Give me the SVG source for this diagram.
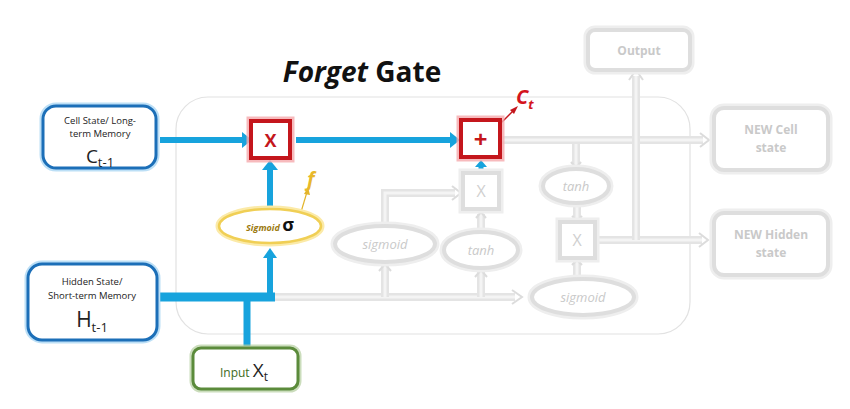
<svg xmlns="http://www.w3.org/2000/svg" width="850" height="409" viewBox="0 0 850 409">
<style>
.font{font-family:"Open Sans","Liberation Sans",sans-serif}
.bluebox{fill:#fff;stroke:#1c6fb8;stroke-width:3}
.blueglow{fill:none;stroke:#9fd2f2;stroke-width:7;opacity:0.7}
.blk{font-family:"Open Sans","Liberation Sans",sans-serif;fill:#222}
.flow{stroke:#17a3dd;fill:none}
.gline{stroke:#e4e4e4;fill:none;stroke-width:8}
.gin{stroke:#f4f4f4;fill:none;stroke-width:3}
.gshape{fill:#fff;stroke:#dedede;stroke-width:4}
.gglow{fill:none;stroke:#eeeeee;stroke-width:9}
.gtxt{font-family:"Open Sans","Liberation Sans",sans-serif;fill:#c9c9c9;font-weight:bold;font-size:12px;text-anchor:middle}
.gital{font-family:"Open Sans","Liberation Sans",sans-serif;fill:#c9c9c9;font-style:italic;font-size:13px;text-anchor:middle}
.redbox{fill:#fff;stroke:#c4161c;stroke-width:4}
.redglow{fill:none;stroke:#f5a9ad;stroke-width:9;opacity:0.8}
</style>
<rect width="850" height="409" fill="#fff"/>

<!-- title -->
<text x="362" y="82" class="font" font-size="28" font-weight="bold" text-anchor="middle" fill="#111"><tspan font-style="italic">Forget</tspan> Gate</text>

<!-- big cell container -->
<rect x="176" y="97" width="514" height="237" rx="32" fill="none" stroke="#e2e2e2" stroke-width="1.2"/>

<!-- faded connectors -->
<g id="faded-connectors">
<path class="gline" d="M275,297 H515"/>
<path class="gin" d="M275,297 H515"/>
<path d="M512,290 L522,297 L512,304" fill="none" stroke="#dcdcdc" stroke-width="2"/>
<path class="gline" d="M385,297 V266"/>
<path class="gin" d="M385,297 V266"/>
<path d="M379,271 L385,264 L391,271" fill="none" stroke="#dcdcdc" stroke-width="2"/>
<path class="gline" d="M481,297 V272"/>
<path class="gin" d="M481,297 V272"/>
<path d="M475,277 L481,270 L487,277" fill="none" stroke="#dcdcdc" stroke-width="2"/>
<path class="gline" d="M385,226 V193 H455"/>
<path class="gin" d="M385,226 V193 H455"/>
<path d="M452,186 L461,193 L452,200" fill="none" stroke="#dcdcdc" stroke-width="2"/>
<path class="gline" d="M481,232 V214"/>
<path class="gin" d="M481,232 V214"/>
<path d="M476,218 L481,212 L486,218" fill="none" stroke="#dcdcdc" stroke-width="2"/>
<path class="gline" d="M502,140 H703"/>
<path class="gin" d="M502,140 H703"/>
<path d="M700,133 L709,140 L700,147" fill="none" stroke="#dcdcdc" stroke-width="2"/>
<path class="gline" d="M576,144 V165"/>
<path class="gin" d="M576,144 V165"/>
<path d="M571,162 L576,168 L581,162" fill="none" stroke="#dcdcdc" stroke-width="2"/>
<path class="gline" d="M577,203 V219"/>
<path class="gin" d="M577,203 V219"/>
<path d="M572,216 L577,221 L582,216" fill="none" stroke="#dcdcdc" stroke-width="2"/>
<path class="gline" d="M577,279 V262"/>
<path class="gin" d="M577,279 V262"/>
<path d="M572,265 L577,260 L582,265" fill="none" stroke="#dcdcdc" stroke-width="2"/>
<path class="gline" d="M597,240 H702"/>
<path class="gin" d="M597,240 H702"/>
<path d="M699,233 L708,240 L699,247" fill="none" stroke="#dcdcdc" stroke-width="2"/>
<path class="gline" d="M636,240 V76"/>
<path class="gin" d="M636,240 V76"/>
<path d="M629,80 L636,70 L643,80" fill="none" stroke="#dcdcdc" stroke-width="2"/>
</g>

<!-- blue connectors -->
<g id="connectors">
<path class="flow" stroke-width="6" d="M160,140 H244"/>
<path d="M242,132 L252,140 L242,148 Z" fill="#17a3dd"/>
<path class="flow" stroke-width="6" d="M296,140 H452"/>
<path d="M450,132 L460,140 L450,148 Z" fill="#17a3dd"/>
<path class="flow" stroke-width="6" d="M270,206 V168"/>
<path d="M262,170 L270,160 L278,170 Z" fill="#17a3dd"/>
<path class="flow" stroke-width="9" d="M160,297 H275"/>
<path class="flow" stroke-width="6" d="M270,297 V256"/>
<path d="M263,258 L270,248 L277,258 Z" fill="#17a3dd"/>
<path class="flow" stroke-width="7" d="M247,346 V297"/>
<path class="flow" stroke-width="5" d="M481,172 V166"/>
<path d="M475,167 L481,160 L487,167 Z" fill="#17a3dd"/>
<path d="M301,212 L307,192" stroke="#e3b52c" stroke-width="1.2" fill="none"/>
<path d="M304,194 L308,187 L310,195 Z" fill="#e3b52c"/>
<path d="M501,123 L514,110" stroke="#c4161c" stroke-width="1.3" fill="none"/>
<path d="M510,110 L518,106 L514,114 Z" fill="#c4161c"/>
</g>

<!-- Cell state -->
<g id="cell-state">
<rect class="blueglow" x="43" y="106" width="113" height="62" rx="13"/>
<rect class="bluebox" x="43" y="106" width="113" height="62" rx="13"/>
<text x="100" y="124" class="blk" font-size="9.5" text-anchor="middle">Cell State/ Long-</text>
<text x="100" y="137" class="blk" font-size="9.5" text-anchor="middle">term Memory</text>
<text x="100" y="163" class="blk" font-size="19" text-anchor="middle">C<tspan font-size="13" dy="4">t-1</tspan></text>
</g>

<!-- Hidden state -->
<g id="hidden-state">
<rect class="blueglow" x="28" y="264" width="129" height="76" rx="14"/>
<rect class="bluebox" x="28" y="264" width="129" height="76" rx="14"/>
<text x="92" y="285" class="blk" font-size="9.5" text-anchor="middle">Hidden State/</text>
<text x="92" y="299" class="blk" font-size="9.5" text-anchor="middle">Short-term Memory</text>
<text x="92" y="327" class="blk" font-size="21" text-anchor="middle">H<tspan font-size="13" dy="5">t-1</tspan></text>
</g>

<!-- Input -->
<g id="input">
<rect x="193" y="348" width="105" height="41" rx="8" fill="none" stroke="#b5cfa0" stroke-width="7" opacity="0.7"/>
<rect x="193" y="348" width="105" height="41" rx="8" fill="#fff" stroke="#5b8b3b" stroke-width="3"/>
<text x="244" y="377" class="font" font-size="12" text-anchor="middle" fill="#3d6b22">Input <tspan font-size="19" fill="#222">X</tspan><tspan font-size="12" dy="4" fill="#222">t</tspan></text>
</g>

<!-- forget multiply -->
<g id="forget-multiply">
<rect class="redglow" x="251" y="121" width="39" height="37"/>
<rect class="redbox" x="251" y="121" width="39" height="37"/>
<text x="270.5" y="147" class="font" font-size="18" font-weight="bold" text-anchor="middle" fill="#c4161c">X</text>
</g>

<!-- cell add -->
<g id="cell-add">
<rect class="redglow" x="461" y="120" width="39" height="37"/>
<rect class="redbox" x="461" y="120" width="39" height="37"/>
<text x="480.5" y="148" class="font" font-size="24" font-weight="bold" text-anchor="middle" fill="#c4161c">+</text>
</g>

<!-- Ct label -->
<g id="ct-label">
<text x="516" y="104" class="font" font-size="20" font-weight="bold" font-style="italic" fill="#d4141c">C<tspan font-size="13" dy="5">t</tspan></text>
</g>

<!-- sigmoid -->
<g id="forget-sigmoid">
<ellipse cx="270" cy="226" rx="51" ry="17" fill="none" stroke="#fbeaa8" stroke-width="7"/>
<ellipse cx="270" cy="226" rx="51" ry="17" fill="#fff" stroke="#f0cf55" stroke-width="2.5"/>
<text x="270" y="231" class="font" text-anchor="middle"><tspan font-size="9" font-style="italic" font-weight="bold" fill="#9c7a10">Sigmoid </tspan><tspan font-size="18" font-weight="bold" fill="#111">σ</tspan></text>
</g>

<!-- f label -->
<g id="f-label">
<text x="307" y="186" class="font" font-size="20" font-style="italic" font-weight="bold" fill="#e8b82a">f</text>
</g>

<!-- faded nodes -->
<g id="input-sigmoid">
<ellipse class="gglow" cx="385" cy="244" rx="50" ry="18"/>
<ellipse class="gshape" cx="385" cy="244" rx="50" ry="18"/>
<text x="385" y="249" class="gital">sigmoid</text>
</g>
<g id="input-tanh">
<ellipse class="gglow" cx="481" cy="250" rx="37" ry="18"/>
<ellipse class="gshape" cx="481" cy="250" rx="37" ry="18"/>
<text x="481" y="255" class="gital">tanh</text>
</g>
<g id="input-multiply">
<rect class="gglow" x="463" y="173" width="36" height="36"/>
<rect class="gshape" x="463" y="173" width="36" height="36"/>
<text x="481" y="197" class="font" font-size="16" text-anchor="middle" fill="#d0d0d0">X</text>
</g>
<g id="output-tanh">
<ellipse class="gglow" cx="576" cy="186" rx="33" ry="17"/>
<ellipse class="gshape" cx="576" cy="186" rx="33" ry="17"/>
<text x="576" y="191" class="gital">tanh</text>
</g>
<g id="output-multiply">
<rect class="gglow" x="560" y="222" width="35" height="36"/>
<rect class="gshape" x="560" y="222" width="35" height="36"/>
<text x="577" y="246" class="font" font-size="16" text-anchor="middle" fill="#d0d0d0">X</text>
</g>
<g id="output-sigmoid">
<ellipse class="gglow" cx="583" cy="297" rx="51" ry="18"/>
<ellipse class="gshape" cx="583" cy="297" rx="51" ry="18"/>
<text x="583" y="302" class="gital">sigmoid</text>
</g>
<g id="output">
<rect class="gglow" x="588" y="30" width="102" height="40" rx="7"/>
<rect class="gshape" x="588" y="30" width="102" height="40" rx="7"/>
<text x="639" y="55" class="gtxt">Output</text>
</g>
<g id="new-cell-state">
<rect class="gglow" x="714" y="108" width="114" height="62" rx="10"/>
<rect class="gshape" x="714" y="108" width="114" height="62" rx="10"/>
<text x="771" y="134" class="gtxt">NEW Cell</text>
<text x="771" y="152" class="gtxt">state</text>
</g>
<g id="new-hidden-state">
<rect class="gglow" x="714" y="213" width="114" height="62" rx="10"/>
<rect class="gshape" x="714" y="213" width="114" height="62" rx="10"/>
<text x="771" y="239" class="gtxt">NEW Hidden</text>
<text x="771" y="257" class="gtxt">state</text>
</g>
</svg>
